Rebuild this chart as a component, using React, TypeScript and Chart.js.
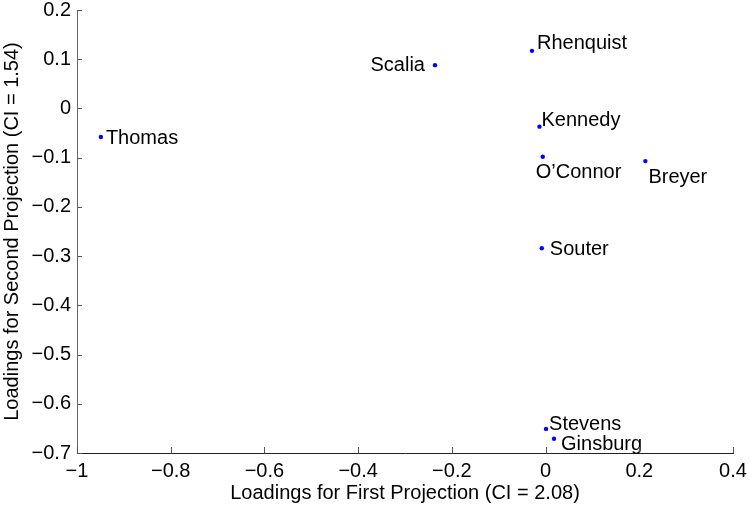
import React, { useEffect, useRef } from 'react';
import { Chart, registerables } from 'chart.js';

Chart.register(...registerables);

// ---- data ----
const justices = ['Thomas', 'Scalia', 'Rhenquist', 'Kennedy', 'O\u2019Connor', 'Breyer', 'Souter', 'Stevens', 'Ginsburg'];
const firstLoadings = [-0.949, -0.236, -0.029, -0.013, -0.006, 0.213, -0.008, 0.001, 0.018];
const secondLoadings = [-0.058, 0.088, 0.117, -0.037, -0.098, -0.107, -0.284, -0.651, -0.671];
const xTickValues = [-1, -0.8, -0.6, -0.4, -0.2, 0, 0.2, 0.4];
const yTickValues = [0.2, 0.1, 0, -0.1, -0.2, -0.3, -0.4, -0.5, -0.6, -0.7];
const xTitle = 'Loadings for First Projection (CI = 2.08)';
const yTitle = 'Loadings for Second Projection (CI = 1.54)';

// ---- label placement (style, pixel offsets from the point) ----
const labelOffsets: Record<string, { dx: number; dy: number; align: CanvasTextAlign }> = {
  Thomas: { dx: 5, dy: 7, align: 'left' },
  Scalia: { dx: -10, dy: 6, align: 'right' },
  Rhenquist: { dx: 5, dy: -2, align: 'left' },
  Kennedy: { dx: 2, dy: -1, align: 'left' },
  'O\u2019Connor': { dx: -7, dy: 21, align: 'left' },
  Breyer: { dx: 3, dy: 22, align: 'left' },
  Souter: { dx: 8, dy: 7, align: 'left' },
  Stevens: { dx: 3, dy: 1, align: 'left' },
  Ginsburg: { dx: 7, dy: 11, align: 'left' },
};

const FONT_FAMILY = '"Liberation Sans", Arial, Helvetica, sans-serif';
const fmt = (v: number) => (v === 0 ? '0' : String(v).replace('-', '\u2212'));

const labelPlugin = {
  id: 'pointLabels',
  afterDatasetsDraw(chart: any) {
    const ctx = chart.ctx;
    const meta = chart.getDatasetMeta(0);
    ctx.save();
    ctx.font = `20px ${FONT_FAMILY}`;
    ctx.fillStyle = '#000';
    ctx.textBaseline = 'alphabetic';
    meta.data.forEach((pt: any, i: number) => {
      const name = justices[i];
      const o = labelOffsets[name] || { dx: 5, dy: 0, align: 'left' };
      ctx.textAlign = o.align;
      ctx.fillText(name, pt.x + o.dx, pt.y + o.dy);
    });
    ctx.restore();
  },
};

const inwardTicks = {
  id: 'inwardTicks',
  afterDraw(chart: any) {
    const ctx = chart.ctx;
    const x = chart.scales.x;
    const y = chart.scales.y;
    const area = chart.chartArea;
    ctx.save();
    ctx.lineWidth = 1;
    ctx.strokeStyle = '#555';
    ctx.beginPath();
    xTickValues.forEach((v) => {
      const px = Math.round(x.getPixelForValue(v)) + 0.5;
      ctx.moveTo(px, area.bottom);
      ctx.lineTo(px, area.bottom - 6);
    });
    yTickValues.forEach((v) => {
      const py = Math.round(y.getPixelForValue(v)) + 0.5;
      ctx.moveTo(area.left, py);
      ctx.lineTo(area.left + 5, py);
    });
    ctx.stroke();
    ctx.restore();
  },
};

export default function App() {
  const canvasRef = useRef<HTMLCanvasElement | null>(null);

  useEffect(() => {
    if (!canvasRef.current) return;
    const font = { family: FONT_FAMILY, size: 20 };
    const chart = new Chart(canvasRef.current, {
      type: 'scatter',
      data: {
        datasets: [
          {
            label: 'Justices',
            data: firstLoadings.map((v, i) => ({ x: v, y: secondLoadings[i] })),
            backgroundColor: '#0000ff',
            borderColor: '#0000ff',
            borderWidth: 0,
            pointRadius: 2.2,
            pointHoverRadius: 2.2,
          },
        ],
      },
      options: {
        animation: false,
        responsive: false,
        devicePixelRatio: 1,
        layout: { padding: { left: 0, right: 17, top: 10, bottom: 0 } },
        plugins: {
          legend: { display: false },
          tooltip: { enabled: false },
        },
        scales: {
          x: {
            type: 'linear',
            position: 'bottom',
            min: -1,
            max: 0.4,
            afterBuildTicks: (s: any) => {
              s.ticks = xTickValues.map((v) => ({ value: v }));
            },
            afterFit: (s: any) => {
              s.height = 56;
              s.paddingLeft = 0;
              s.paddingRight = 0;
            },
            grid: { display: false, drawTicks: false },
            border: { display: true, color: '#222', width: 1 },
            ticks: {
              padding: 6,
              color: '#000',
              font,
              maxRotation: 0,
              autoSkip: false,
              callback: (v: any) => fmt(Number(v)),
            },
            title: {
              display: true,
              text: xTitle,
              color: '#000',
              font,
              padding: { top: 0, bottom: 4 },
            },
          },
          y: {
            type: 'linear',
            position: 'left',
            min: -0.7,
            max: 0.2,
            afterBuildTicks: (s: any) => {
              s.ticks = yTickValues.map((v) => ({ value: v }));
            },
            afterFit: (s: any) => {
              s.width = 77;
              s.paddingTop = 0;
              s.paddingBottom = 0;
            },
            grid: { display: false, drawTicks: false },
            border: { display: true, color: '#666', width: 1 },
            ticks: {
              padding: 6,
              color: '#000',
              font,
              autoSkip: false,
              callback: (v: any) => fmt(Number(v)),
            },
            title: {
              display: true,
              text: yTitle,
              color: '#000',
              font,
              padding: { top: 0, bottom: 0 },
            },
          },
        },
      },
      plugins: [labelPlugin, inwardTicks],
    });
    return () => chart.destroy();
  }, []);

  return (
    <div style={{ position: 'absolute', left: 0, top: 0, width: 750, height: 509, background: '#fff' }}>
      <canvas ref={canvasRef} width={750} height={509} />
    </div>
  );
}
